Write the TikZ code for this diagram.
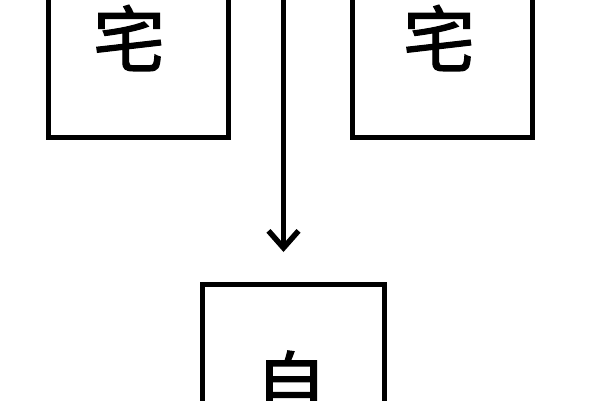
\documentclass[tikz,border=0pt]{standalone}
\usepackage{fontspec}
\newfontfamily\cjk[FakeBold=1.6]{Noto Sans CJK SC}
\usetikzlibrary{arrows.meta}
\begin{document}
\begin{tikzpicture}[x=1pt,y=-1pt,
  boxnode/.style={draw=black,line width=5pt,minimum width=180pt,minimum height=200pt,inner sep=0pt,anchor=south west},
  charnode/.style={font=\cjk\fontsize{72}{80}\selectfont,inner sep=0pt,text=black},
  link/.style={line width=5.5pt,-{Straight Barb[length=17pt,width=30pt]}}]
\useasboundingbox (0,0) rectangle (600,400);
\clip (0,0) rectangle (600,400);
\fill[white] (0,0) rectangle (600,400);
\node[boxnode] (lbox) at (45.5,140) {};
\node[boxnode] (rbox) at (349.5,140) {};
\node[boxnode,anchor=north west,minimum width=181.5pt] (bbox) at (200,281.5) {};
\node[charnode] (lt) at (129,38) {宅};
\node[charnode] (rt) at (439,38) {宅};
\node[charnode] (bt) at (291,384) {自};
\coordinate (astart) at (283.5,-20);
\coordinate (aend) at (283.5,252);
\draw[link] (astart) -- (aend);
\end{tikzpicture}
\end{document}
